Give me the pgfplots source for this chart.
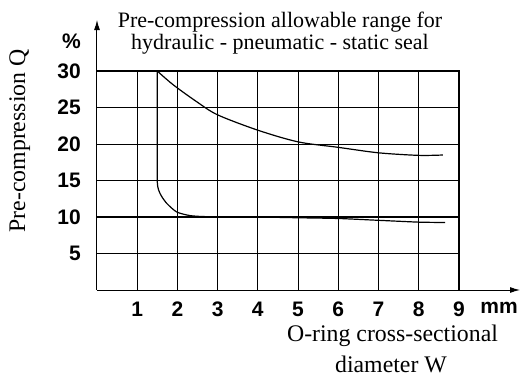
\documentclass[border=0pt]{standalone}
\usepackage{fontspec}
\setmainfont{Liberation Serif}
\newfontfamily\tickfont{Liberation Sans}
\usepackage{pgfplots}
\pgfplotsset{compat=1.18}
\usetikzlibrary{arrows.meta}
\begin{document}
\begin{tikzpicture}
\begin{axis}[
  scale only axis, width=423bp, height=270bp,
  xmin=0, xmax=10.52, ymin=0, ymax=37,
  axis lines=left,
  axis line style={line width=1bp, -{Latex[length=10bp,width=6bp]}},
  xtick={1,2,3,4,5,6,7,8,9,10},
  xticklabels={1,2,3,4,5,6,7,8,9,mm},
  ytick={5,10,15,20,25,30,34.1},
  yticklabels={5,10,15,20,25,30,\%},
  major tick length=0pt,
  tick label style={font=\tickfont\bfseries\fontsize{21bp}{21bp}\selectfont, inner sep=0pt},
  xticklabel style={anchor=north, yshift=-12bp},
  yticklabel style={anchor=east, xshift=-16bp},
  clip=false,
]
\coordinate (O) at (axis cs:0,0);
% grid
\pgfplotsinvokeforeach{5,10,15,20,25}{\draw[line width=1.1bp] (axis cs:0,#1) -- (axis cs:9,#1);}
\pgfplotsinvokeforeach{1,2,3,4,5,6,7,8}{\draw[line width=1bp] (axis cs:#1,0) -- (axis cs:#1,30);}
\draw[line width=1.5bp] (axis cs:0,30) -- (axis cs:9,30) -- (axis cs:9,0);
% upper limit curve
\addplot[black, line width=1.2bp, smooth, tension=0.5] coordinates {
  (1.5,30) (1.9,28.1) (2.48,25.8) (3.0,24.0) (4.0,21.9) (5,20.3)
  (6,19.55) (7,18.8) (8,18.45) (8.6,18.5)
};
% lower limit curve
\addplot[black, line width=1.2bp, smooth, tension=0.4] coordinates {
  (1.5,30) (1.5,22) (1.5,14.8) (1.57,13.2) (1.73,11.9) (1.98,10.7)
  (2.31,10.2) (2.73,10.05) (4,10.0) (5,9.9) (6,9.8) (7,9.55) (8,9.3) (8.66,9.25)
};
% texts
\node[anchor=base, font=\fontsize{22bp}{24bp}\selectfont] at (rel axis cs:0.4326,0.974) {Pre-compression allowable range for};
\node[anchor=base, font=\fontsize{22bp}{24bp}\selectfont] at (rel axis cs:0.4326,0.8926) {hydraulic - pneumatic - static seal};
\node[rotate=90, anchor=base, font=\fontsize{23.8bp}{26bp}\selectfont] at (rel axis cs:-0.1702,0.552) {Pre-compression Q};
\node[anchor=base, font=\fontsize{23.8bp}{26bp}\selectfont] at (rel axis cs:0.6986,-0.189) {O-ring cross-sectional};
\node[anchor=base, font=\fontsize{23.8bp}{26bp}\selectfont] at (rel axis cs:0.695,-0.3074) {diameter W};
\end{axis}
\pgfresetboundingbox
\path ([shift={(-97bp,-87bp)}]O) rectangle ([shift={(424bp,290bp)}]O);
\end{tikzpicture}
\end{document}
